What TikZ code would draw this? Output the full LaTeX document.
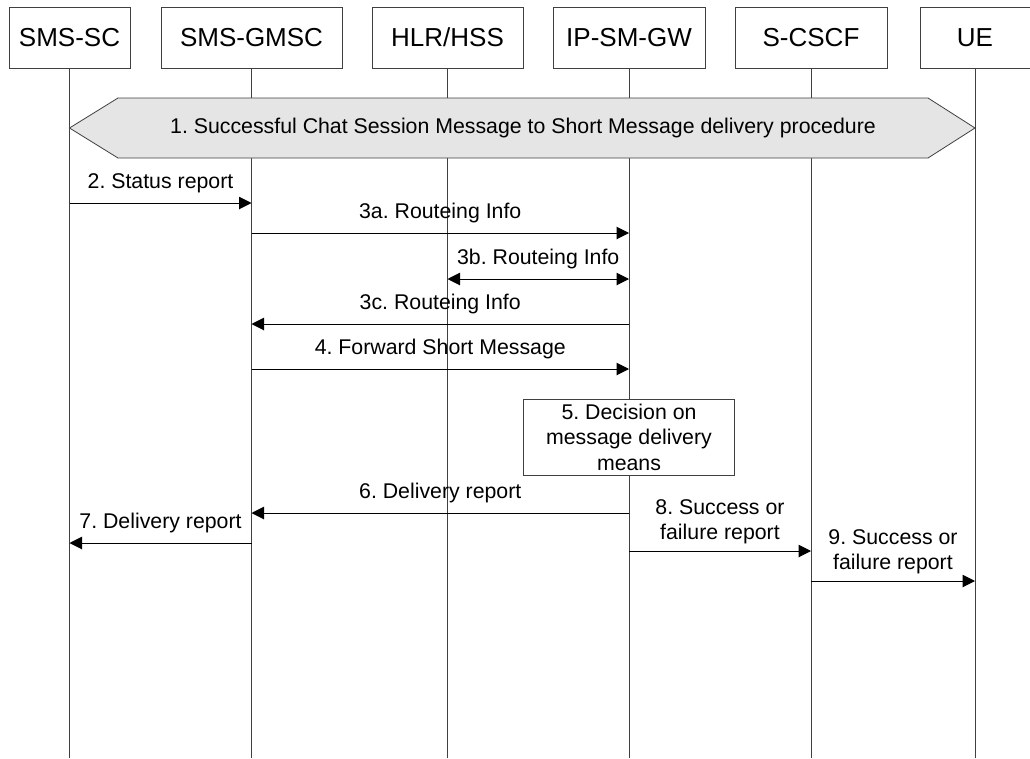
\documentclass[tikz,border=0pt]{standalone}
\usepackage{fontspec}
\setmainfont{Liberation Sans}
\usetikzlibrary{positioning,arrows.meta}
\frenchspacing

\tikzset{
  entity/.style={draw=black!75, line width=0.8pt, fill=white, minimum height=61pt, inner sep=0pt, font=\fontsize{26}{31}\selectfont},
  lifeline/.style={draw=black!75, line width=0.8pt},
  msg/.style={draw=black, line width=1pt, -{Triangle[length=12.5pt,width=12.5pt]}},
  msgboth/.style={draw=black, line width=1pt, {Triangle[length=12.5pt,width=12.5pt]}-{Triangle[length=12.5pt,width=12.5pt]}},
  msgtext/.style={font=\fontsize{21.3}{25.5}\selectfont, align=center, inner sep=0pt},
}

\begin{document}
\begin{tikzpicture}[x=1pt,y=-1pt]
\useasboundingbox (0,0) rectangle (1030,758);

% entities
\node[entity, minimum width=121pt] (smsc) at (69.5,37.5) {SMS-SC};
\node[entity, minimum width=181pt] (gmsc) at (251.5,37.5) {SMS-GMSC};
\node[entity, minimum width=151pt] (hlr) at (447.5,37.5) {HLR/HSS};
\node[entity, minimum width=152pt] (ipsmgw) at (629,37.5) {IP-SM-GW};
\node[entity, minimum width=152pt] (scscf) at (811,37.5) {S-CSCF};
\node[entity, minimum width=110pt] (ue) at (975,37.5) {UE};

% lifelines
\foreach \n in {smsc,gmsc,hlr,ipsmgw,scscf,ue}
  \draw[lifeline] (\n.south) -- (\n.south |- 0,758);

% 1. procedure
\draw[draw=black!75, line width=0.8pt, fill=black!10] (smsc |- 0,128) -- (118,98) -- (928,98) -- (ue |- 0,128) -- (928,158) -- (118,158) -- cycle;
\node[msgtext] (proc) at (523,128) {1. Successful Chat Session Message to Short Message delivery procedure};

% messages
\draw[msg] (smsc |- 0,203) -- node[msgtext, above=9.5pt] {2. Status report} (gmsc |- 0,203);
\draw[msg] (gmsc |- 0,233) -- node[msgtext, above=9.5pt] {3a. Routeing Info} (ipsmgw |- 0,233);
\draw[msgboth] (hlr |- 0,279) -- node[msgtext, above=9.5pt] {3b. Routeing Info} (ipsmgw |- 0,279);
\draw[msg] (ipsmgw |- 0,324) -- node[msgtext, above=9.5pt] {3c. Routeing Info} (gmsc |- 0,324);
\draw[msg] (gmsc |- 0,369) -- node[msgtext, above=9.5pt] {4. Forward Short Message} (ipsmgw |- 0,369);

% 5. decision
\node[draw=black!75, line width=0.8pt, fill=white, minimum width=211pt, minimum height=76pt, msgtext] (decide) at (ipsmgw |- 0,437) {5. Decision on\\message delivery\\means};

\draw[msg] (ipsmgw |- 0,513) -- node[msgtext, above=9.5pt] {6. Delivery report} (gmsc |- 0,513);
\draw[msg] (gmsc |- 0,543) -- node[msgtext, above=9.5pt] {7. Delivery report} (smsc |- 0,543);
\draw[msg] (ipsmgw |- 0,551) -- node[msgtext, above=6.5pt] {8. Success or\\failure report} (scscf |- 0,551);
\draw[msg] (scscf |- 0,581) -- node[msgtext, above=6.5pt] {9. Success or\\failure report} (ue |- 0,581);
\end{tikzpicture}
\end{document}
